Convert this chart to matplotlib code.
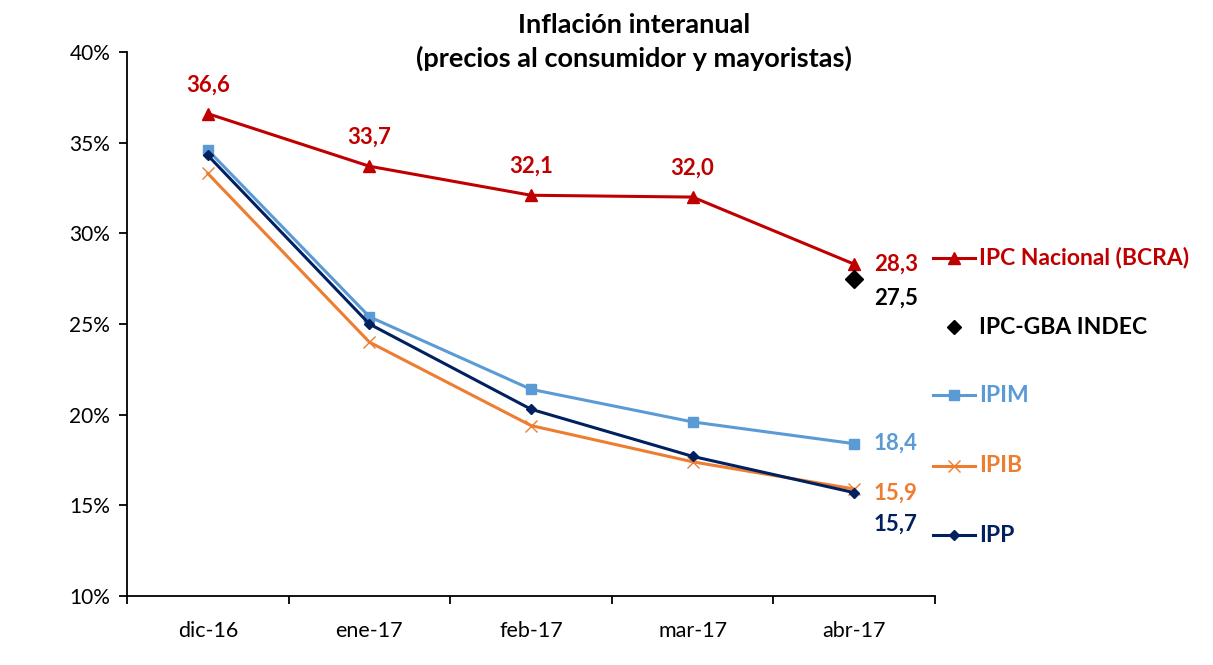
#!/usr/bin/env python3

import matplotlib
matplotlib.use("Agg")
import matplotlib.pyplot as plt

plt.rcParams['font.family'] = ['Lato', 'DejaVu Sans']

months = ["dic-16", "ene-17", "feb-17", "mar-17", "abr-17"]
ipc_nac = [36.6, 33.7, 32.1, 32.0, 28.3]
ipc_gba = [None, None, None, None, 27.5]
ipim = [34.6, 25.4, 21.4, 19.6, 18.4]
ipib = [33.3, 24.0, 19.4, 17.4, 15.9]
ipp = [34.3, 25.0, 20.3, 17.7, 15.7]

red = '#C00000'
lblue = '#5B9BD5'
orange = '#ED7D31'
navy = '#002060'

fig = plt.figure(figsize=(12.13, 6.65), dpi=100)
ax = fig.add_axes([127/1213, 1 - 596/665, (935-127)/1213, (596-52)/665])

x = list(range(len(months)))
ax.plot(x, ipc_nac, color=red, lw=2.2, marker='^', ms=8)
ax.plot(x, ipim, color=lblue, lw=2.2, marker='s', ms=7)
ax.plot(x, ipib, color=orange, lw=2.2, marker='x', ms=9, mew=1)
ax.plot(x, ipp, color=navy, lw=2.2, marker='D', ms=5)
ax.plot([4], [ipc_gba[4]], color='black', ls='none', marker='D', ms=9)

ax.set_xlim(-0.5, 4.5)
ax.set_ylim(10, 40)
ax.set_yticks(range(10, 41, 5))
ax.set_yticklabels([f"{v}%" for v in range(10, 41, 5)], fontsize=15)
ax.set_xticks([i - 0.5 for i in range(6)])
ax.set_xticklabels([])
ax.set_xticks(x, minor=True)
ax.set_xticklabels(months, minor=True, fontsize=15.5)
ax.tick_params(axis='x', which='major', direction='out', length=6, width=1.3)
ax.tick_params(axis='x', which='minor', length=0, pad=18)
ax.tick_params(axis='y', direction='out', length=6, width=1.3, pad=6)
for s in ['top', 'right']:
    ax.spines[s].set_visible(False)
for s in ['left', 'bottom']:
    ax.spines[s].set_linewidth(1.3)

bold = dict(fontsize=16, fontweight='bold')
# labels above first four IPC points
for i in range(4):
    ax.annotate(f"{ipc_nac[i]:.1f}".replace('.', ','), (i, ipc_nac[i]),
                xytext=(0, 13), textcoords='offset points', ha='center', va='bottom',
                color=red, **bold)
ax.annotate("28,3", (4, ipc_nac[4]), xytext=(14, 0), textcoords='offset points',
            ha='left', va='center', color=red, **bold)
ax.annotate("27,5", (4, ipc_gba[4]), xytext=(14, -14), textcoords='offset points',
            ha='left', va='center', color='black', **bold)
ax.annotate("18,4", (4, ipim[4]), xytext=(14, 0), textcoords='offset points',
            ha='left', va='center', color=lblue, **bold)
ax.annotate("15,9", (4, ipib[4]), xytext=(14, -3), textcoords='offset points',
            ha='left', va='center', color=orange, **bold)
ax.annotate("15,7", (4, ipp[4]), xytext=(14, -23), textcoords='offset points',
            ha='left', va='center', color=navy, **bold)

# custom legend on the right
leg = [("IPC Nacional (BCRA)", red, '^', 8, '-'),
       ("IPC-GBA INDEC", 'black', 'D', 7, 'none'),
       ("IPIM", lblue, 's', 7, '-'),
       ("IPIB", orange, 'x', 9, '-'),
       ("IPP", navy, 'D', 5, '-')]
leg_y = [258, 327, 395, 466, 535]
for (name, c, m, ms, ls), py in zip(leg, leg_y):
    fy = 1 - py / 665
    x0, x1 = 933 / 1213, 975 / 1213
    fig.add_artist(plt.Line2D([x0, x1], [fy, fy], color=c, lw=2.2, ls=ls,
                              transform=fig.transFigure))
    fig.add_artist(plt.Line2D([(x0 + x1) / 2], [fy], color=c, marker=m, ms=ms,
                              mew=1, ls='none', transform=fig.transFigure))
    fig.text(979 / 1213, fy, name, color=c, ha='left', va='center',
             fontsize=16.5, fontweight='bold')

fig.text(634 / 1213, 1 - 42 / 665, "Inflación interanual\n(precios al consumidor y mayoristas)",
         ha='center', va='center', fontsize=19.5, fontweight='bold', linespacing=1.45)

fig.savefig("out.png", dpi=100)
